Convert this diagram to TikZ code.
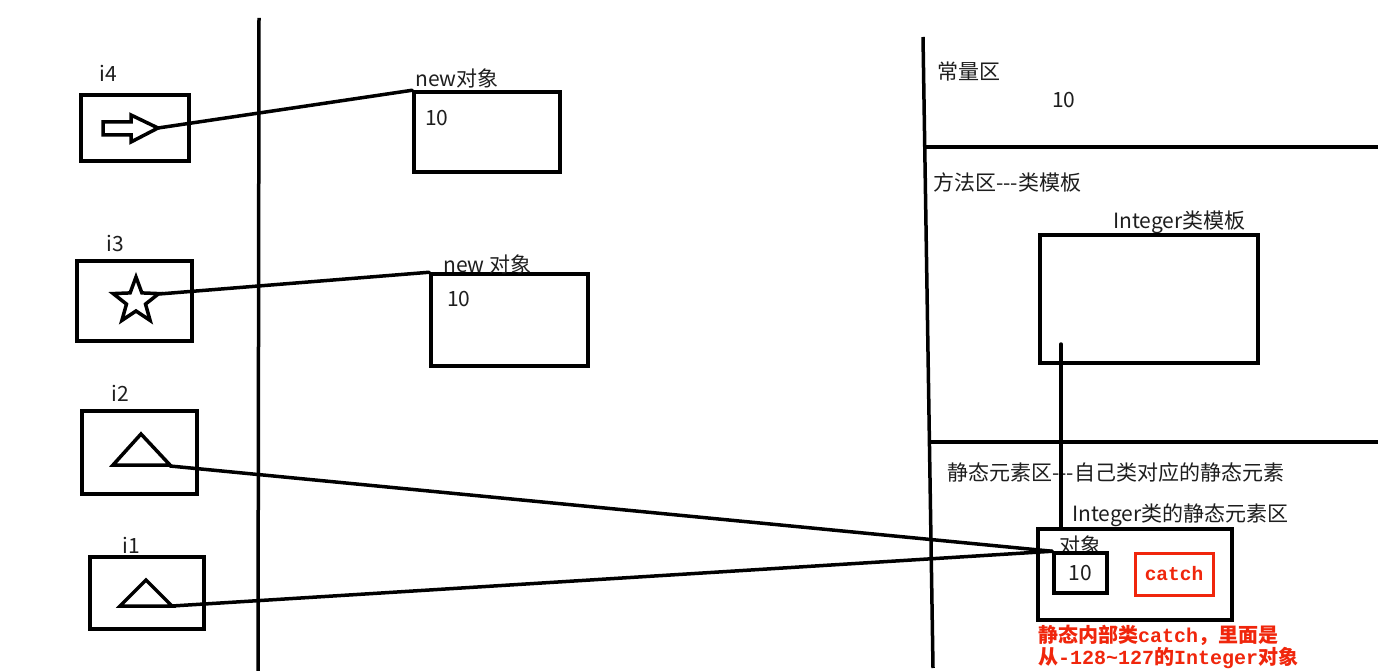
\documentclass[tikz,border=0pt]{standalone}
\usepackage{fontspec}
\setmainfont{Noto Sans CJK SC}
\newfontfamily\monof{Liberation Mono}
\definecolor{redc}{RGB}{240,38,12}
\definecolor{txt}{RGB}{30,30,30}
\tikzset{
 lbl/.style={anchor=west,inner sep=0pt,font=\fontsize{21}{24}\selectfont,text=txt},
 clbl/.style={inner sep=0pt,font=\fontsize{21}{24}\selectfont,text=txt},
 box/.style={draw,line width=3.5pt,inner sep=0pt},
 conn/.style={line width=3.5pt,line cap=round},
 icon/.style={line width=3.5pt,line join=miter},
 redtxt/.style={anchor=west,inner sep=0pt,text=redc,font=\fontsize{20}{23}\selectfont\bfseries},
}
\begin{document}
\begin{tikzpicture}[x=1pt,y=-1pt]
\useasboundingbox[fill=white] (0,0) rectangle (1378,671);
% divider lines
\coordinate (v1a) at (259,18); \coordinate (v1b) at (258,671);
\coordinate (v2a) at (923,37); \coordinate (v2b) at (933,668);
\coordinate (h1a) at (925,147); \coordinate (h1b) at (1378,147);
\coordinate (h2a) at (931,442); \coordinate (h2b) at (1378,442);
\draw[conn,line cap=butt] (v1a) -- (v1b);
\draw[conn,line cap=butt] (v2a) -- (v2b);
\draw[conn,line cap=butt] (h1a) -- (h1b);
\draw[conn,line cap=butt] (h2a) -- (h2b);
% i4
\node[clbl] (li4) at (108,73) {i4};
\node[box,minimum width=108pt,minimum height=66pt] (b4) at (135,128) {};
\draw[icon] (103,122) -- (131,122) -- (131,115) -- (158,128) -- (131,142) -- (131,135) -- (103,135) -- cycle;
\coordinate (t4) at (158,128);
\node[box,minimum width=146pt,minimum height=80pt] (o4) at (487,132) {};
\node[lbl] (lo4) at (415,78) {new对象};
\node[lbl] (v4) at (425,118) {10};
\draw[conn] (t4) -- (o4.north west);
% i3
\node[clbl] (li3) at (115,243) {i3};
\node[box,minimum width=115pt,minimum height=80pt] (b3) at (134.5,301) {};
\coordinate (sc) at (136,301);
\draw[icon] (sc) +(-90:24) -- +(-54:10) -- +(-18:24) -- +(18:10) -- +(54:24) -- +(90:10) -- +(126:24) -- +(162:10) -- +(198:24) -- +(234:10) -- cycle;
\coordinate (t3) at (159,294);
\node[box,minimum width=157pt,minimum height=92pt] (o3) at (509.5,320) {};
\node[lbl] (lo3) at (443,264) {new 对象};
\node[lbl] (v3) at (447,299) {10};
\draw[conn] (t3) -- (o3.north west);
% i2
\node[clbl] (li2) at (120,393) {i2};
\node[box,minimum width=115pt,minimum height=83pt] (b2) at (139.5,452.5) {};
\draw[icon] (113,465) -- (141,434) -- (170,465) -- cycle;
\coordinate (t2) at (170,466);
% i1
\node[clbl] (li1) at (131,545) {i1};
\node[box,minimum width=114pt,minimum height=72pt] (b1) at (147,593) {};
\draw[icon] (120,606) -- (146,580) -- (172,606) -- cycle;
\coordinate (t1) at (172,606);
% right side
\node[lbl] (cq) at (937,72) {常量区};
\node[lbl] (cq10) at (1052,100) {10};
\node[lbl] (ff) at (933,182) {方法区-{}-{}-类模板};
\node[lbl] (itl) at (1113,222) {Integer类模板};
\node[box,minimum width=218pt,minimum height=128pt] (tpl) at (1149,299) {};
\node[lbl] (jt) at (947,473) {静态元素区-{}-{}-自己类对应的静态元素};
\node[lbl] (ijt) at (1072,515) {Integer类的静态元素区};
\node[box,minimum width=194pt,minimum height=91pt] (obox) at (1135,574.5) {};
\node[lbl] (dx) at (1059,545) {对象};
\node[box,minimum width=53pt,minimum height=40pt] (ibox) at (1080.5,573) {};
\node[clbl] (i10) at (ibox.center) {10};
\node[draw=redc,line width=3pt,minimum width=78pt,minimum height=42pt,inner sep=0pt,text=redc,font=\fontsize{19.5}{22}\selectfont\bfseries\monof] (catch) at (1174,574) {catch};
\coordinate (tv) at (1061,344);
\draw[conn] (tv) -- (tv |- obox.north);
\draw[conn] (t2) -- (ibox.north west);
\draw[conn] (t1) -- (ibox.north west);
\node[redtxt] (r1) at (1038,635) {静态内部类{\monof catch}，里面是};
\node[redtxt] (r2) at (1038,658) {从{\monof -128\textasciitilde127}的{\monof Integer}对象};
\end{tikzpicture}
\end{document}
